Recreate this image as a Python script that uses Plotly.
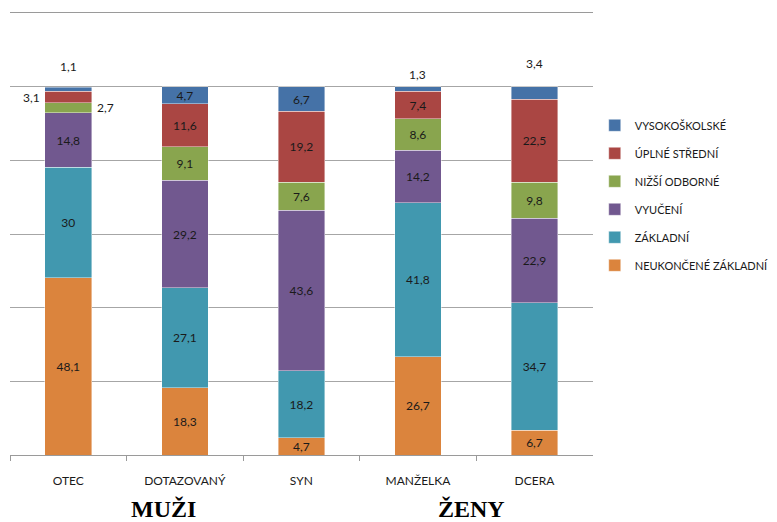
import plotly.graph_objects as go

categories = ["OTEC", "DOTAZOVANÝ", "SYN", "MANŽELKA", "DCERA"]
series_names = ["NEUKONČENÉ ZÁKLADNÍ", "ZÁKLADNÍ", "VYUČENÍ", "NIŽŠÍ ODBORNÉ", "ÚPLNÉ STŘEDNÍ", "VYSOKOŠKOLSKÉ"]
neukoncene = [48.1, 18.3, 4.7, 26.7, 6.7]
zakladni = [30, 27.1, 18.2, 41.8, 34.7]
vyuceni = [14.8, 29.2, 43.6, 14.2, 22.9]
nizsi_odborne = [2.7, 9.1, 7.6, 8.6, 9.8]
uplne_stredni = [3.1, 11.6, 19.2, 7.4, 22.5]
vysokoskolske = [1.1, 4.7, 6.7, 1.3, 3.4]
group_labels = ["MUŽI", "ŽENY"]

series_values = [neukoncene, zakladni, vyuceni, nizsi_odborne, uplne_stredni, vysokoskolske]
colors = ["#DB843D", "#4198AF", "#71588F", "#89A54E", "#AA4643", "#4572A7"]


def fmt(v):
    return f"{v:g}".replace(".", ",")


# labels that sit outside the bar (series index, category index) -> (xshift, yshift, anchor)
outside = {(5, 0): (0, 21, "top"), (5, 3): (0, 12, "top"), (5, 4): (0, 23, "top"),
           (4, 0): (-37, 0, "mid"), (3, 0): (37, 0, "mid")}

fig = go.Figure()
n = len(series_names)
for si, (name, vals, col) in enumerate(zip(series_names, series_values, colors)):
    texts = ["" if (si, ci) in outside else fmt(v) for ci, v in enumerate(vals)]
    fig.add_trace(go.Bar(
        x=categories, y=vals, name=name,
        marker=dict(color=col, line=dict(width=0.6, color="rgba(255,255,255,0.7)")),
        text=texts, textposition="inside", insidetextanchor="middle", constraintext="none",
        textfont=dict(family="Lato, Open Sans, sans-serif", size=12, color="#1a1a1a"),
        legendgroup=name, legendrank=n - si, width=0.4, hoverinfo="skip",
    ))

annotations = []
for (si, ci), (xs, ys, kind) in outside.items():
    below = sum(series_values[k][ci] for k in range(si))
    v = series_values[si][ci]
    yv = below + v if kind == "top" else below + v / 2
    annotations.append(dict(x=categories[ci], y=yv, xref="x", yref="y", text=fmt(v), showarrow=False,
                            xshift=xs, yshift=ys,
                            font=dict(family="Lato, Open Sans, sans-serif", size=12, color="#1a1a1a")))

for lbl, xp in zip(group_labels, [0.264, 0.792]):
    annotations.append(dict(x=xp, y=-0.122, xref="paper", yref="paper", text=f"<b>{lbl}</b>", showarrow=False,
                            xanchor="center", yanchor="middle",
                            font=dict(family="Liberation Serif, Times New Roman, serif", size=24, color="#000")))

fig.update_layout(
    barmode="stack",
    width=769, height=514,
    margin=dict(l=2, r=180, t=5, b=67),
    paper_bgcolor="white", plot_bgcolor="white",
    showlegend=True,
    legend=dict(xref="container", yref="container", x=0.763, y=0.80, xanchor="left", yanchor="top",
                traceorder="grouped", tracegroupgap=9,
                font=dict(family="Lato, Open Sans, sans-serif", size=11, color="#1a1a1a"),
                itemclick=False),
    annotations=annotations,
)
fig.update_xaxes(showline=True, mirror=True, linecolor="#9a9a9a", linewidth=1, ticks="outside",
                 tickson="boundaries", ticklen=5, tickcolor="#9a9a9a", showgrid=False,
                 tickfont=dict(family="Lato, Open Sans, sans-serif", size=12, color="#1a1a1a"),
                 ticklabelstandoff=15)
fig.update_yaxes(range=[0, 120], dtick=20, showgrid=True, gridcolor="#a6a6a6", gridwidth=1,
                 showticklabels=False, zeroline=False, showline=False, ticks="")

fig.write_html("out.html")
